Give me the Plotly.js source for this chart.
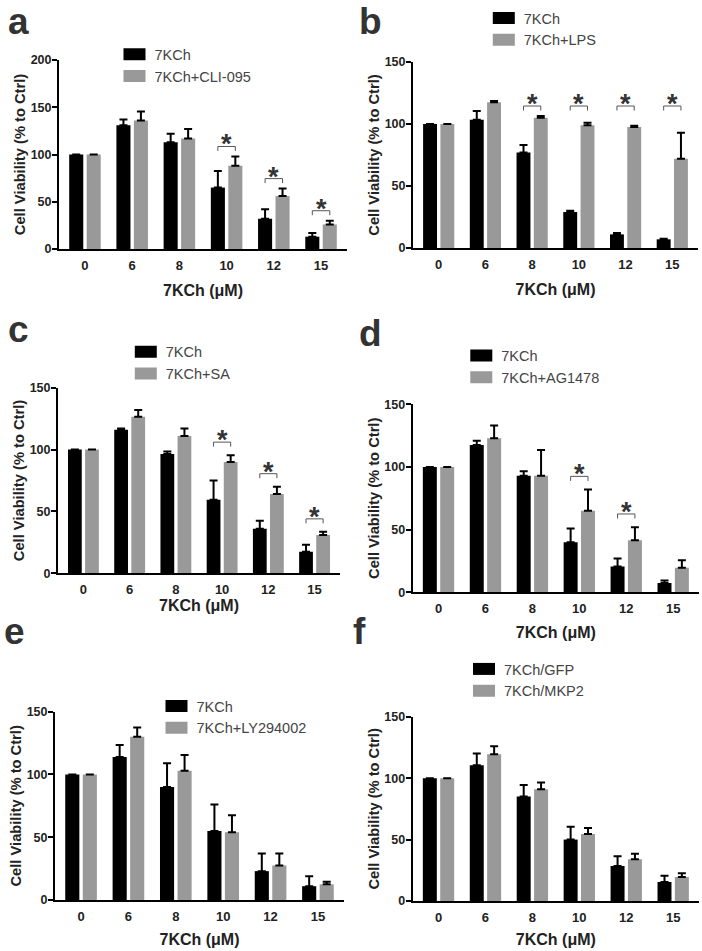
<!DOCTYPE html>
<html>
<head>
<meta charset="utf-8">
<script src="https://cdn.plot.ly/plotly-3.0.1.min.js"></script>
<style>
  html, body { margin: 0; padding: 0; background: #fff; }
  #chart { width: 702px; height: 951px; }
</style>
</head>
<body>
<div id="chart"></div>
<script>
// ---------------- DATA ----------------
const categories = ['0', '6', '8', '10', '12', '15'];

// Panel a: 7KCh vs 7KCh+CLI-095
const namesA = ['7KCh', '7KCh+CLI-095'];
const blackA = [100, 131, 113, 65, 32, 13];
const errBlackA = [NaN, 6, 9, 17.5, 10, 4];
const grayA = [100, 136, 117, 88, 56, 26];
const errGrayA = [NaN, 9.5, 10, 10, 8, 4];
const sigA = [0, 0, 0, 1, 1, 1];

// Panel b: 7KCh vs 7KCh+LPS
const namesB = ['7KCh', '7KCh+LPS'];
const blackB = [100, 103.5, 77, 29, 11, 7];
const errBlackB = [NaN, 7, 6, 1, 1, 0.5];
const grayB = [100, 117.5, 105, 99, 97.5, 72];
const errGrayB = [NaN, 1, 1.5, 2, 1, 21];
const sigB = [0, 0, 1, 1, 1, 1];

// Panel c: 7KCh vs 7KCh+SA
const namesC = ['7KCh', '7KCh+SA'];
const blackC = [100, 116, 96.5, 59.5, 36, 17.5];
const errBlackC = [NaN, 1, 2, 15.5, 6.5, 5.5];
const grayC = [100, 126.5, 111, 90, 64, 31];
const errGrayC = [NaN, 5.5, 6, 5.5, 6, 2.5];
const sigC = [0, 0, 0, 1, 1, 1];

// Panel d: 7KCh vs 7KCh+AG1478
const namesD = ['7KCh', '7KCh+AG1478'];
const blackD = [100, 117.5, 93, 40, 20.5, 7.5];
const errBlackD = [NaN, 3.5, 3.5, 11, 6.5, 2];
const grayD = [100, 123, 93, 65, 41.5, 19.5];
const errGrayD = [NaN, 10, 20.5, 17, 10.5, 6];
const sigD = [0, 0, 0, 1, 1, 0];

// Panel e: 7KCh vs 7KCh+LY294002
const namesE = ['7KCh', '7KCh+LY294002'];
const blackE = [100, 114, 90, 55, 23, 11];
const errBlackE = [NaN, 9.5, 19, 21, 14, 8];
const grayE = [100, 130, 103, 54, 27.5, 12.5];
const errGrayE = [NaN, 7.5, 12.5, 13.5, 9.5, 2];
const sigE = [0, 0, 0, 0, 0, 0];

// Panel f: 7KCh/GFP vs 7KCh/MKP2
const namesF = ['7KCh/GFP', '7KCh/MKP2'];
const blackF = [100, 110.5, 85, 50, 28.5, 15.5];
const errBlackF = [NaN, 9.5, 9.5, 10.5, 8, 5];
const grayF = [100, 119.5, 91, 54.5, 34, 19.5];
const errGrayF = [NaN, 6.5, 5.5, 5, 4.5, 3];
const sigF = [0, 0, 0, 0, 0, 0];

const xTitle = '7KCh (μM)';
const yTitle = 'Cell Viability (% to Ctrl)';

// ---------------- LAYOUT / STYLE ----------------
const W = 702, H = 951;
const FONT = 'Arial, "Liberation Sans", Helvetica, sans-serif';
const BLACK = '#000000', GRAY = '#999999';
const BARGAP = 0.26, BARGROUPGAP = 0.195;
const px = v => v / W;
const py = v => 1 - v / H;

const panels = [
  { letter: 'a', names: namesA, black: blackA, eb: errBlackA, gray: grayA, eg: errGrayA, sig: sigA,
    ymax: 200, box: [59, 347, 60, 249], leg: [134.5, 54.2], let: [6, 35], xstand: 13, level: null },
  { letter: 'b', names: namesB, black: blackB, eb: errBlackB, gray: grayB, eg: errGrayB, sig: sigB,
    ymax: 150, box: [413, 698, 62, 248], leg: [503.8, 18], let: [357, 35], xstand: 13, level: 114.5 },
  { letter: 'c', names: namesC, black: blackC, eb: errBlackC, gray: grayC, eg: errGrayC, sig: sigC,
    ymax: 150, box: [58, 340, 387.7, 573.3], leg: [145.8, 351.8], let: [6, 343], xstand: 3, level: null },
  { letter: 'd', names: namesD, black: blackD, eb: errBlackD, gray: grayD, eg: errGrayD, sig: sigD,
    ymax: 150, box: [412.7, 699, 404.3, 592.3], leg: [481.3, 355.5], let: [357, 347], xstand: 12, level: null },
  { letter: 'e', names: namesE, black: blackE, eb: errBlackE, gray: grayE, eg: errGrayE, sig: sigE,
    ymax: 150, box: [55, 344, 711.7, 900], leg: [176.5, 706], let: [2, 645], xstand: 11, level: null },
  { letter: 'f', names: namesF, black: blackF, eb: errBlackF, gray: grayF, eg: errGrayF, sig: sigF,
    ymax: 150, box: [412.7, 699, 716.7, 901], leg: [484, 669], let: [351, 645], xstand: 10, level: null }
];

const data = [];
const layout = {
  width: W, height: H,
  margin: { l: 0, r: 0, t: 0, b: 0 },
  paper_bgcolor: '#ffffff', plot_bgcolor: '#ffffff',
  font: { family: FONT, color: '#222' },
  barmode: 'group', bargap: BARGAP, bargroupgap: BARGROUPGAP,
  showlegend: true,
  shapes: [], annotations: []
};

panels.forEach((p, i) => {
  const k = i + 1;
  const xa = k === 1 ? 'x' : 'x' + k;
  const ya = k === 1 ? 'y' : 'y' + k;
  const lg = k === 1 ? 'legend' : 'legend' + k;
  const [x0, x1, y0, y1] = p.box;

  const mkErr = (arr) => ({
    type: 'data', symmetric: false, array: arr, arrayminus: arr.map(() => 0),
    color: '#000', thickness: 2, width: 4
  });

  data.push({
    type: 'bar', x: categories, y: p.black, name: p.names[0],
    marker: { color: BLACK, line: { width: 0 } },
    error_y: mkErr(p.eb), xaxis: xa, yaxis: ya, legend: lg, hoverinfo: 'skip'
  });
  data.push({
    type: 'bar', x: categories, y: p.gray, name: p.names[1],
    marker: { color: GRAY, line: { width: 0 } },
    error_y: mkErr(p.eg), xaxis: xa, yaxis: ya, legend: lg, hoverinfo: 'skip'
  });

  layout['xaxis' + (k === 1 ? '' : k)] = {
    domain: [px(x0), px(x1)], anchor: ya, type: 'category',
    range: [-0.55, 5.55], showline: true, linecolor: '#000', linewidth: 2,
    ticks: '', ticklabelstandoff: 3, showgrid: false, zeroline: false, fixedrange: true,
    tickfont: { family: FONT, size: 13, color: '#222', weight: 'bold' },
    title: { text: xTitle, standoff: p.xstand,
             font: { family: FONT, size: 16, color: '#222', weight: 'bold' } }
  };
  layout['yaxis' + (k === 1 ? '' : k)] = {
    domain: [py(y1), py(y0)], anchor: xa, range: [0, p.ymax],
    tick0: 0, dtick: 50, ticks: 'outside', ticklen: 5, tickwidth: 2, tickcolor: '#000',
    ticklabelstandoff: -2,
    showline: true, linecolor: '#000', linewidth: 2,
    showgrid: false, zeroline: false, fixedrange: true,
    tickfont: { family: FONT, size: 12.5, color: '#222', weight: 'bold' },
    title: { text: yTitle, standoff: 1,
             font: { family: FONT, size: 14.7, color: '#222', weight: 'bold' } }
  };

  layout[lg] = {
    x: px(p.leg[0] - 20), y: py(p.leg[1] - 16), xanchor: 'left', yanchor: 'top',
    bgcolor: 'rgba(0,0,0,0)', borderwidth: 0, tracegroupgap: 0,
    font: { family: FONT, size: 14.5, color: '#444' }, itemclick: false, itemdoubleclick: false
  };

  // panel letter
  layout.annotations.push({
    xref: 'paper', yref: 'paper', x: px(p.let[0]), y: py(p.let[1] + 9),
    xanchor: 'left', yanchor: 'bottom', showarrow: false, text: p.letter,
    font: { family: FONT, size: 37, color: '#333', weight: 'bold' }
  });

  // significance brackets + asterisks, placed from the data
  const half = (1 - BARGAP) / 4;
  const unitsPerPx = p.ymax / (y1 - y0);
  const drop = 4.5 * unitsPerPx;
  p.sig.forEach((s, j) => {
    if (!s) return;
    const top = Math.max(p.black[j] + (p.eb[j] || 0), p.gray[j] + (p.eg[j] || 0));
    const by = p.level !== null ? p.level : top + 10.5;
    const xl = j - half, xr = j + half;
    layout.shapes.push({
      type: 'path', xref: xa, yref: ya,
      path: `M${xl},${by - drop} L${xl},${by} L${xr},${by} L${xr},${by - drop}`,
      line: { color: '#555', width: 1 }
    });
    // numeric category position (serial index) of group j
    layout.annotations.push({
      xref: xa, yref: ya, x: j, y: by, yanchor: 'middle', yshift: 2,
      showarrow: false, text: '*',
      font: { family: FONT, size: 27, color: '#333', weight: 'bold' }
    });
  });
});

Plotly.newPlot('chart', data, layout, { staticPlot: true, displayModeBar: false }).then(gd => {
  gd.querySelectorAll('.legendpoints path').forEach(el => el.setAttribute('d', 'M11,6H-11V-6H11Z'));
});
</script>
</body>
</html>
